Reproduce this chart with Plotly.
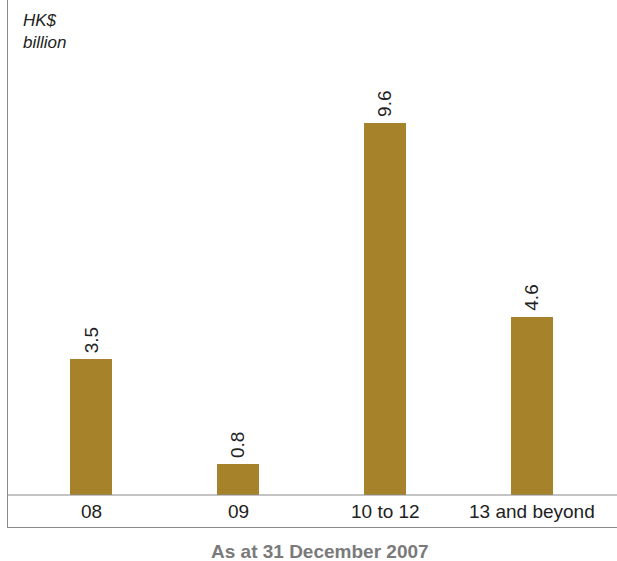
import plotly.graph_objects as go

categories = ["08", "09", "10 to 12", "13 and beyond"]
values = [3.5, 0.8, 9.6, 4.6]
value_labels = ["3.5", "0.8", "9.6", "4.6"]

bar_color = "#A6822A"
x_pos = list(range(len(categories)))
FONT = "Liberation Sans, Arial, Helvetica"

fig = go.Figure()
fig.add_trace(go.Bar(
    x=x_pos, y=values, width=0.286, marker_color=bar_color,
    marker_line_width=0, hoverinfo="skip",
))

for i, (v, t) in enumerate(zip(values, value_labels)):
    fig.add_annotation(x=i, y=v, text=t, textangle=-90, showarrow=False,
                       xanchor="center", yanchor="bottom", yshift=4,
                       font=dict(size=19, color="#222222", family=FONT))

for i, c in enumerate(categories):
    fig.add_annotation(x=i, y=-0.42, text=c, showarrow=False,
                       xanchor="center", yanchor="middle",
                       font=dict(size=19, color="#222222", family=FONT))

fig.add_shape(type="line", xref="paper", yref="y", x0=0, x1=1, y0=0, y1=0,
              line=dict(color="#8a8a8a", width=1.2))

fig.add_annotation(xref="paper", yref="paper", x=0.022, y=1.0, yanchor="top", xanchor="left",
                   yshift=-9,
                   text="<i>HK$<br>billion</i>", showarrow=False, align="left",
                   font=dict(size=17, color="#222222", family=FONT))

fig.add_annotation(xref="paper", yref="paper", x=0.513, y=-0.047, yanchor="middle", xanchor="center",
                   text="<b>As at 31 December 2007</b>", showarrow=False,
                   font=dict(size=19, color="#7a7a7a", family=FONT))

fig.update_xaxes(range=[-0.565, 3.578], showticklabels=False, showgrid=False, zeroline=False,
                 showline=True, linecolor="#8a8a8a", linewidth=1.2, ticks="")
fig.update_yaxes(range=[-0.826, 12.77], showticklabels=False, showgrid=False, zeroline=False,
                 showline=True, linecolor="#8a8a8a", linewidth=1.2, ticks="")

fig.update_layout(
    width=617, height=561,
    margin=dict(l=8, r=0, t=0, b=34),
    plot_bgcolor="white", paper_bgcolor="white",
    showlegend=False, bargap=0,
    font=dict(family=FONT),
)

fig.write_html("out.html")
